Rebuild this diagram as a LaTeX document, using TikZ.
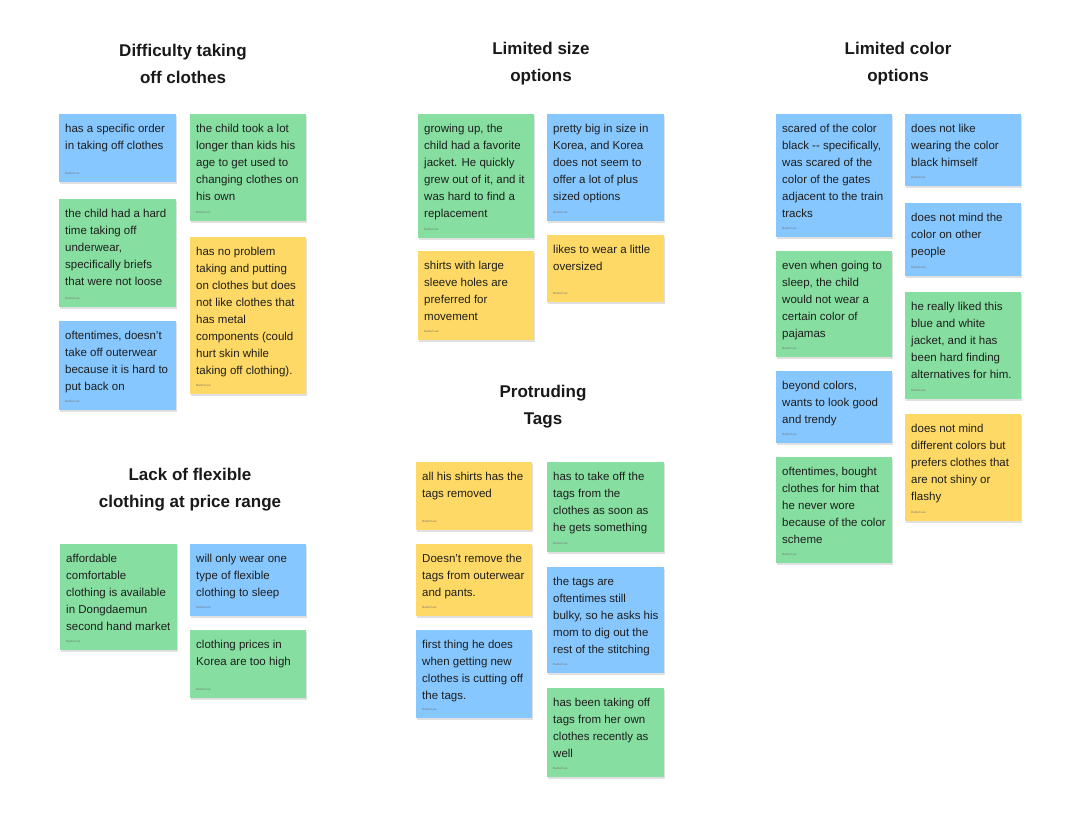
\documentclass[tikz,border=0pt]{standalone}
\usepackage{fontspec}
\setmainfont{Liberation Sans}
\definecolor{nblue}{RGB}{134,199,255}
\definecolor{ngreen}{RGB}{134,223,160}
\definecolor{nyellow}{RGB}{255,217,102}
\definecolor{ntext}{RGB}{30,30,30}
\tikzset{
 notebox/.style={anchor=north west,inner sep=0pt,draw=none},
 notetext/.style={anchor=north west,inner sep=0pt,align=left,text=ntext,font=\fontsize{11.5}{17}\selectfont},
 author/.style={anchor=west,inner sep=0pt,text=black!55,font=\fontsize{3}{3}\selectfont},
 title/.style={align=center,font=\bfseries\fontsize{17}{27}\selectfont,text=black!90}
}
\newcommand{\stickynote}[7]{%
 \fill[black!12] (#2+1,#3+2) rectangle ++(#4,#5);
 \fill[#6] (#2,#3) rectangle ++(#4,#5);
 \node[notetext] (#1) at (#2+6,#3+10) {#7};
 \node[author] (#1a) at (#2+6,#3+#5-9) {Daniel Lee};
}
\begin{document}
\begin{tikzpicture}[x=1pt,y=-1pt]
\useasboundingbox (0,0) rectangle (1078,828);
\fill[white] (0,0) rectangle (1078,828);
\node[title] (t1) at (183,64) {Difficulty taking\\off clothes};
\node[title] (t2) at (541,64) {Limited size\\options};
\node[title] (t3) at (898,64) {Limited color\\options};
\node[title] (t4) at (543,407) {Protruding\\Tags};
\node[title] (t5) at (190,490) {Lack of flexible\\clothing at price range};
% column 1
\stickynote{a1}{59}{114}{117}{68}{nblue}{has a specific order\\in taking off clothes}
\stickynote{a2}{190}{114}{116}{107}{ngreen}{the child took a lot\\longer than kids his\\age to get used to\\changing clothes on\\his own}
\stickynote{a3}{59}{199}{117}{108}{ngreen}{the child had a hard\\time taking off\\underwear,\\specifically briefs\\that were not loose}
\stickynote{a4}{190}{237}{116}{157}{nyellow}{has no problem\\taking and putting\\on clothes but does\\not like clothes that\\has metal\\components (could\\hurt skin while\\taking off clothing).}
\stickynote{a5}{59}{321}{117}{89}{nblue}{oftentimes, doesn't\\take off outerwear\\because it is hard to\\put back on}
% column 2
\stickynote{b1}{418}{114}{116}{124}{ngreen}{growing up, the\\child had a favorite\\jacket. He quickly\\grew out of it, and it\\was hard to find a\\replacement}
\stickynote{b2}{547}{114}{117}{107}{nblue}{pretty big in size in\\Korea, and Korea\\does not seem to\\offer a lot of plus\\sized options}
\stickynote{b3}{418}{251}{116}{89}{nyellow}{shirts with large\\sleeve holes are\\preferred for\\movement}
\stickynote{b4}{547}{235}{117}{67}{nyellow}{likes to wear a little\\oversized}
\stickynote{c1}{416}{462}{116}{68}{nyellow}{all his shirts has the\\tags removed}
\stickynote{c2}{547}{462}{117}{90}{ngreen}{has to take off the\\tags from the\\clothes as soon as\\he gets something}
\stickynote{c3}{416}{544}{116}{72}{nyellow}{Doesn't remove the\\tags from outerwear\\and pants.}
\stickynote{c4}{547}{567}{117}{106}{nblue}{the tags are\\oftentimes still\\bulky, so he asks his\\mom to dig out the\\rest of the stitching}
\stickynote{c5}{416}{630}{116}{88}{nblue}{first thing he does\\when getting new\\clothes is cutting off\\the tags.}
\stickynote{c6}{547}{688}{117}{89}{ngreen}{has been taking off\\tags from her own\\clothes recently as\\well}
% column 3
\stickynote{d1}{776}{114}{116}{123}{nblue}{scared of the color\\black -{}- specifically,\\was scared of the\\color of the gates\\adjacent to the train\\tracks}
\stickynote{d2}{905}{114}{116}{72}{nblue}{does not like\\wearing the color\\black himself}
\stickynote{d3}{776}{251}{116}{106}{ngreen}{even when going to\\sleep, the child\\would not wear a\\certain color of\\pajamas}
\stickynote{d4}{905}{203}{116}{73}{nblue}{does not mind the\\color on other\\people}
\stickynote{d5}{776}{371}{116}{72}{nblue}{beyond colors,\\wants to look good\\and trendy}
\stickynote{d6}{905}{292}{116}{107}{ngreen}{he really liked this\\blue and white\\jacket, and it has\\been hard finding\\alternatives for him.}
\stickynote{d7}{776}{457}{116}{106}{ngreen}{oftentimes, bought\\clothes for him that\\he never wore\\because of the color\\scheme}
\stickynote{d8}{905}{414}{116}{107}{nyellow}{does not mind\\different colors but\\prefers clothes that\\are not shiny or\\flashy}
% bottom left
\stickynote{e1}{60}{544}{117}{106}{ngreen}{affordable\\comfortable\\clothing is available\\in Dongdaemun\\second hand market}
\stickynote{e2}{190}{544}{116}{72}{nblue}{will only wear one\\type of flexible\\clothing to sleep}
\stickynote{e3}{190}{630}{116}{68}{ngreen}{clothing prices in\\Korea are too high}
\end{tikzpicture}
\end{document}
